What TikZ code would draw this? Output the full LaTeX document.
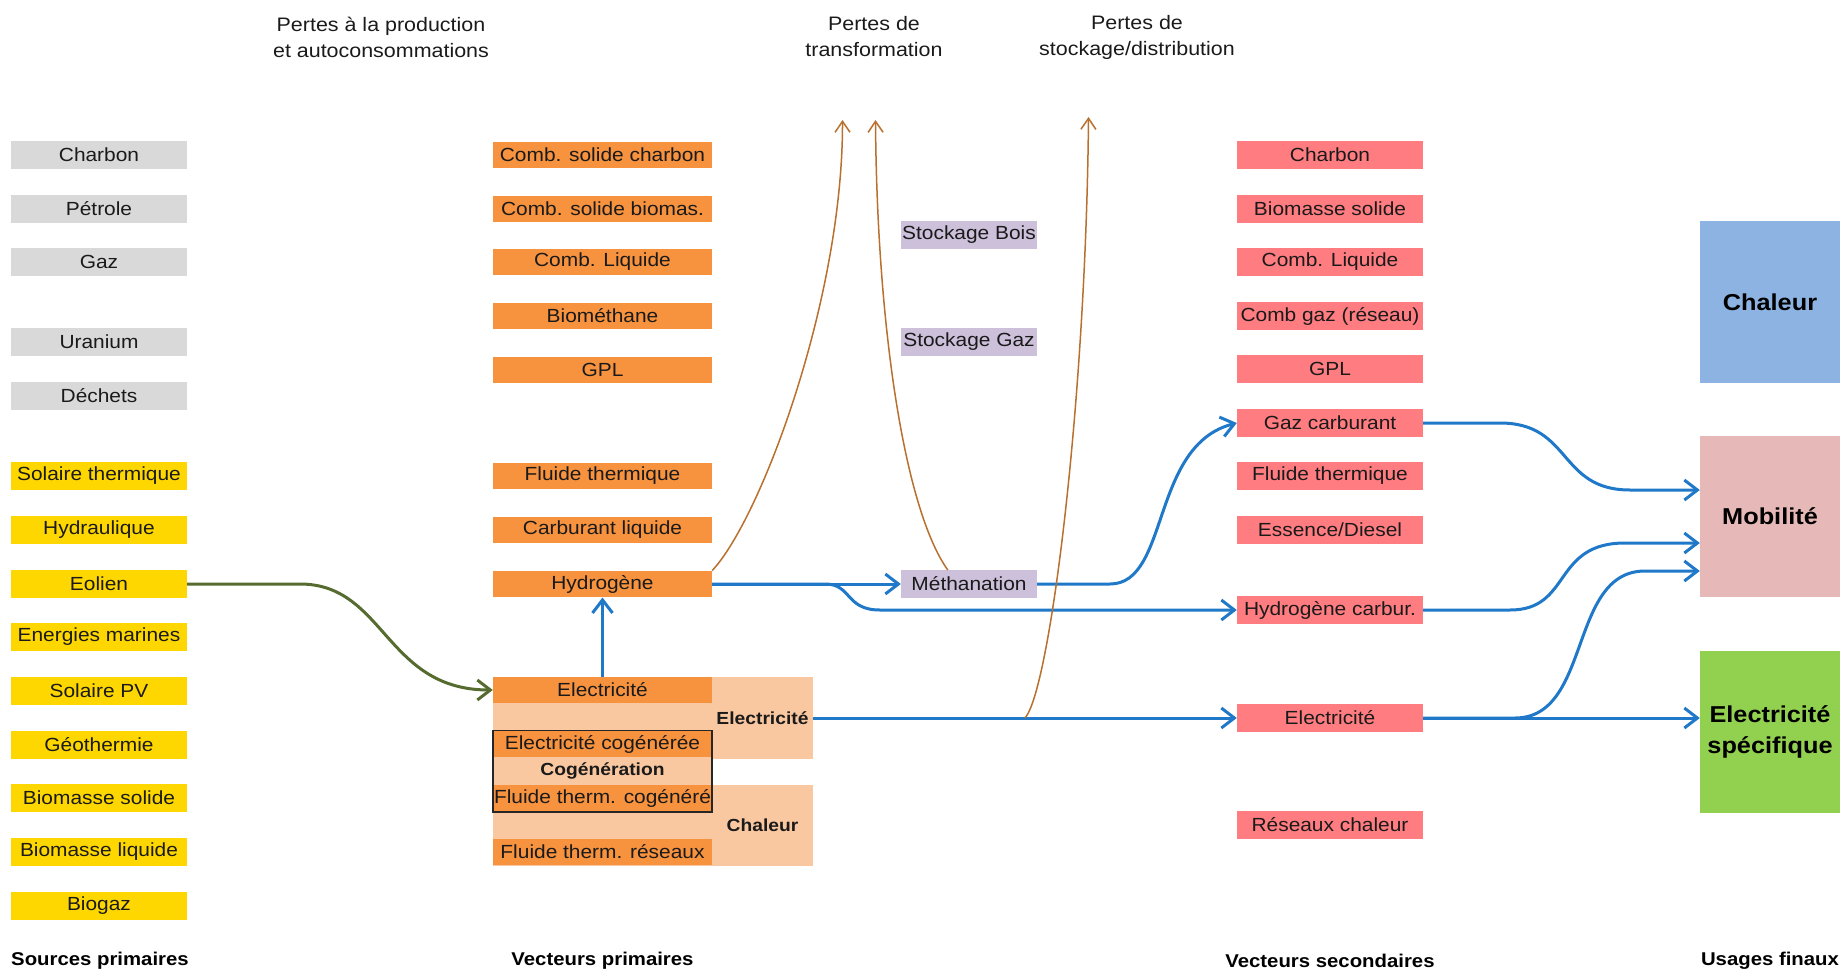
\documentclass[tikz,border=0pt]{standalone}
\usepackage{fontspec}
\setmainfont{Liberation Sans}[FakeStretch=1.1]
\usetikzlibrary{arrows.meta,calc}
\definecolor{cgray}{HTML}{D9D9D9}
\definecolor{cyel}{HTML}{FFD700}
\definecolor{corange}{HTML}{F7923F}
\definecolor{cpeach}{HTML}{FAC8A0}
\definecolor{clav}{HTML}{CCC0DA}
\definecolor{cred}{HTML}{FF7C80}
\definecolor{cchal}{HTML}{8DB3E2}
\definecolor{cmob}{HTML}{E6B9B8}
\definecolor{cgreen}{HTML}{92D050}
\definecolor{cblue}{HTML}{1F78C8}
\definecolor{cbrown}{HTML}{B8702E}
\definecolor{colive}{HTML}{556B2F}
\definecolor{ctext}{HTML}{1A1A1A}
\begin{document}
\begin{tikzpicture}[x=1pt,y=-1pt,
  box/.style={minimum height=27.5pt, inner sep=0pt, anchor=center, text=ctext,
    font=\fontsize{19}{22}\selectfont},
  src/.style={box, minimum width=176pt},
  gsrc/.style={src, fill=cgray},
  ysrc/.style={src, fill=cyel},
  prim/.style={box, minimum width=219pt, fill=corange, minimum height=26.6pt},
  stor/.style={box, minimum width=136pt, fill=clav},
  sec/.style={box, minimum width=186pt, fill=cred},
  usebox/.style={minimum width=140pt, minimum height=162pt, inner sep=0pt, align=center,
    text=black, font=\bfseries\fontsize{23}{31}\selectfont},
  grp/.style={inner sep=0pt, text=ctext, font=\bfseries\fontsize{17.5}{20}\selectfont},
  ttl/.style={align=center, text=ctext, font=\fontsize{19.5}{26}\selectfont},
  coltitle/.style={text=black, font=\bfseries\fontsize{18.5}{22}\selectfont},
  flow/.style={draw=cblue, line width=3pt, -{Straight Barb[length=13pt,width=20pt]}},
  wind/.style={draw=colive, line width=3pt, -{Straight Barb[length=13pt,width=20pt]}},
  loss/.style={draw=cbrown, line width=1.5pt, -{Straight Barb[length=11pt,width=15pt]}}
]
\useasboundingbox (0,0) rectangle (1840,972);

% titles
\node[ttl] (t1) at (381,37) {Pertes à la production\\et autoconsommations};
\node[ttl] (t2) at (874,37) {Pertes de\\transformation};
\node[ttl] (t3) at (1137,37) {Pertes de\\stockage/distribution};

% sources primaires
\node[gsrc] (s1) at (99,155) {Charbon};
\node[gsrc] (s2) at (99,209) {Pétrole};
\node[gsrc] (s3) at (99,262) {Gaz};
\node[gsrc] (s4) at (99,342) {Uranium};
\node[gsrc] (s5) at (99,396) {Déchets};
\node[ysrc] (y1) at (99,476) {Solaire thermique};
\node[ysrc] (y2) at (99,530) {Hydraulique};
\node[ysrc] (eol) at (99,584) {Eolien};
\node[ysrc] (y4) at (99,637) {Energies marines};
\node[ysrc] (y5) at (99,691) {Solaire PV};
\node[ysrc] (y6) at (99,745) {Géothermie};
\node[ysrc] (y7) at (99,798) {Biomasse solide};
\node[ysrc] (y8) at (99,852) {Biomasse liquide};
\node[ysrc] (y9) at (99,906) {Biogaz};

% vecteurs primaires
\node[prim] (p1) at (602.5,155) {Comb. solide charbon};
\node[prim] (p2) at (602.5,209) {Comb. solide biomas.};
\node[prim] (p3) at (602.5,262) {Comb. Liquide};
\node[prim] (p4) at (602.5,316) {Biométhane};
\node[prim] (p5) at (602.5,370) {GPL};
\node[prim] (p6) at (602.5,476) {Fluide thermique};
\node[prim] (p7) at (602.5,530) {Carburant liquide};
\node[prim] (hyd) at (602.5,584) {Hydrogène};

% peach background
\fill[cpeach] (493,677) rectangle (712,866);
\node[grp, fill=cpeach, minimum width=101pt, minimum height=82pt] (pelec) at (762.5,718) {Electricité};
\node[grp, fill=cpeach, minimum width=101pt, minimum height=81pt] (pchal) at (762.5,825.5) {Chaleur};

\node[prim] (oelec) at (602.5,690) {Electricité};
\node[prim] (pcog1) at (602.5,744) {Electricité cogénérée};
\node[grp, minimum width=219pt, minimum height=27.7pt] (cog) at (602.5,771) {Cogénération};
\node[prim] (pcog2) at (602.5,798.6) {Fluide therm. cogénéré};
\node[prim] (pres) at (602.5,852) {Fluide therm. réseaux};
\draw[draw=black!85, line width=1.8pt] (pcog1.north west) rectangle (pcog2.south east);

% stockage
\node[stor] (sb) at (969,235) {Stockage Bois};
\node[stor] (sg) at (969,342) {Stockage Gaz};
\node[stor] (meth) at (969,584) {Méthanation};

% vecteurs secondaires
\node[sec] (r1) at (1330,155) {Charbon};
\node[sec] (r2) at (1330,209) {Biomasse solide};
\node[sec] (r3) at (1330,262) {Comb. Liquide};
\node[sec] (r4) at (1330,316) {Comb gaz (réseau)};
\node[sec] (r5) at (1330,369) {GPL};
\node[sec] (gazc) at (1330,423) {Gaz carburant};
\node[sec] (r7) at (1330,476) {Fluide thermique};
\node[sec] (r8) at (1330,530) {Essence/Diesel};
\node[sec] (hcarb) at (1330,610) {Hydrogène carbur.};
\node[sec] (relec) at (1330,718) {Electricité};
\node[sec] (rres) at (1330,825) {Réseaux chaleur};

% usages finaux
\node[usebox, fill=cchal] (chal) at (1770,302) {Chaleur};
\node[usebox, fill=cmob, minimum height=161pt] (mob) at (1770,516.5) {Mobilité};
\node[usebox, fill=cgreen] (esp) at (1770,732) {Electricité\\spécifique};

% column titles
\node[coltitle] (c1) at (100,961) {Sources primaires};
\node[coltitle] (c2) at (602.5,961) {Vecteurs primaires};
\node[coltitle] (c3) at (1330,961) {Vecteurs secondaires};
\node[coltitle] (c4) at (1770,961) {Usages finaux};

% loss arrow ends
\coordinate (lt1) at (842.5,120);
\coordinate (lt2) at (875.5,120);
\coordinate (lt3) at (1088.5,117);
\coordinate (tap) at ($(pelec.east)!0.5!(relec.west)$);

% connectors
\draw[wind] (eol.east) -- (300,584) .. controls (385,584) and (385,690) .. (oelec.west);
\draw[flow] (oelec.north) -- (hyd.south);
\draw[flow] (hyd.east) -- (meth.west);
\draw[flow] (hyd.east) -- (825,584) .. controls (852,584) and (845,610) .. (880,610) -- (hcarb.west);
\draw[flow] (meth.east) -- (1110,584) .. controls (1170,584) and (1150,445) .. (gazc.west);
\draw[flow] (pelec.east) -- (relec.west);
\draw[flow] (gazc.east) -- (1500,423) .. controls (1572,423) and (1558,490) .. (1630,490) -- ([yshift=26.5pt]mob.west);
\draw[flow] (hcarb.east) -- (1510,610) .. controls (1572,610) and (1552,543) .. (1625,543) -- ([yshift=-26.5pt]mob.west);
\draw[flow] (relec.east) -- (1515,718) .. controls (1592,718) and (1568,571) .. (1645,571) -- ([yshift=-54.5pt]mob.west);
\draw[flow] (relec.east) -- (relec.east -| esp.west);

\draw[loss] (hyd.north east) .. controls (760,520) and (843,300) .. (lt1);
\draw[loss] ([xshift=47pt]meth.north west) .. controls (905,510) and (877,330) .. (lt2);
\draw[loss] (tap) .. controls (1050,690) and (1086,400) .. (lt3);
\end{tikzpicture}
\end{document}
